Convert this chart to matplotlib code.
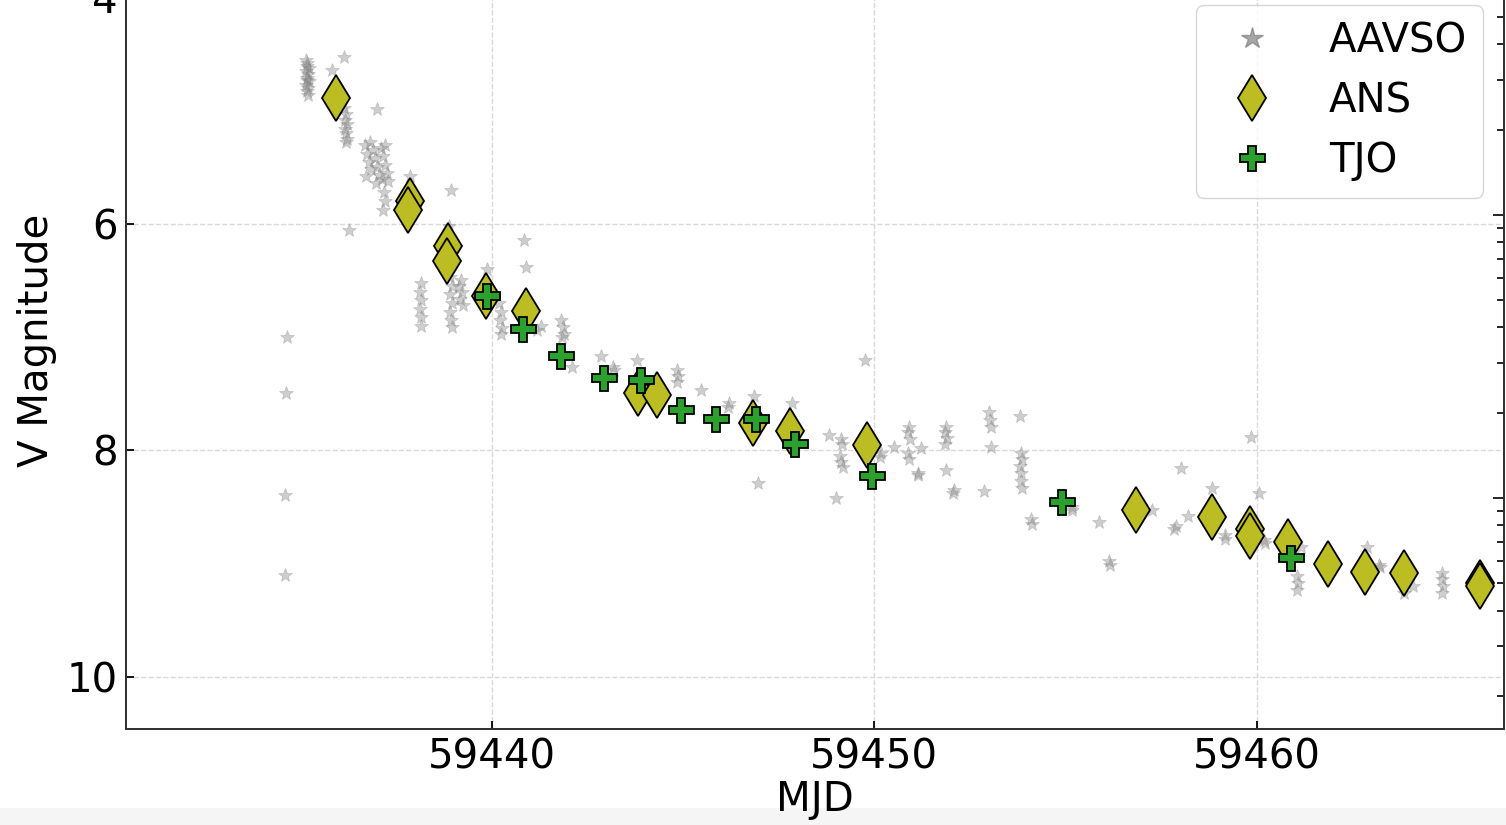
import matplotlib
matplotlib.use("Agg")
import matplotlib.pyplot as plt
from matplotlib.lines import Line2D
from matplotlib.patches import Rectangle
import numpy as np

# AAVSO V points (MJD, V magnitude), grouped by night
aavso_mjd = [
    59435.14, 59435.18, 59435.22, 59435.15, 59435.20, 59435.17, 59435.23, 59435.14, 59435.19, 59435.16,
    59435.21, 59435.18, 59435.16, 59435.83, 59436.13,
    59436.15, 59436.20, 59436.17, 59436.22, 59436.16, 59436.19, 59436.21, 59436.18, 59437.01,
    59436.70, 59436.75, 59436.80, 59436.85, 59436.72, 59436.90, 59436.95, 59437.00, 59437.05, 59437.10,
    59437.15, 59437.20, 59437.25, 59437.30, 59437.12, 59436.82, 59437.22, 59436.98,
    59437.18, 59437.20, 59437.17, 59437.86, 59438.93, 59436.27, 59438.88,
    59438.14, 59438.12, 59438.16, 59438.13, 59438.15, 59438.14,
    59438.90, 59438.95, 59438.92, 59438.97, 59438.91, 59438.94, 59438.96,
    59439.15, 59439.22, 59439.18, 59439.25, 59439.20, 59439.88,
    59440.20, 59440.25, 59440.22, 59440.27, 59440.24, 59440.85, 59440.89, 59441.19, 59441.28,
    59434.66, 59434.61, 59434.59, 59434.59,
    59441.80, 59441.85, 59441.88, 59441.83,
    59442.11, 59442.85, 59443.20, 59443.18, 59443.81,
    59444.85, 59444.87, 59444.84, 59445.46, 59446.20, 59446.18, 59446.86, 59446.95,
    59447.84, 59448.82,
    59449.12, 59449.16, 59449.10, 59449.14, 59449.18, 59448.99, 59449.76,
    59450.17, 59450.15, 59450.52, 59450.91, 59450.88, 59450.93, 59450.87, 59450.90,
    59451.22, 59451.13, 59451.15, 59451.87, 59451.85, 59451.89, 59451.86, 59451.87, 59452.09, 59452.07,
    59452.87, 59453.00, 59453.02, 59453.05, 59453.05,
    59453.80, 59453.83, 59453.85, 59453.82, 59453.84, 59453.83, 59453.86,
    59454.09, 59454.11, 59455.18, 59455.16, 59455.88, 59456.14, 59456.16,
    59457.27, 59457.88, 59457.84, 59458.19, 59458.01,
    59458.82, 59459.16, 59459.18, 59459.84, 59460.06, 59460.19, 59460.21,
    59461.15, 59461.06, 59461.08, 59461.06,
    59462.89, 59463.20, 59463.22, 59463.85, 59464.07,
    59464.85, 59464.85, 59464.87, 59464.85,
]
aavso_mag = [
    4.55, 4.58, 4.62, 4.65, 4.68, 4.71, 4.74, 4.77, 4.80, 4.83,
    4.86, 4.61, 4.73, 4.64, 4.53,
    4.98, 5.03, 5.08, 5.12, 5.16, 5.20, 5.25, 5.28, 4.99,
    5.30, 5.38, 5.45, 5.52, 5.58, 5.35, 5.42, 5.50, 5.57, 5.33,
    5.40, 5.48, 5.55, 5.62, 5.60, 5.28, 5.30, 5.64,
    5.72, 5.80, 5.88, 5.58, 5.70, 6.05, 6.02,
    6.52, 6.60, 6.67, 6.75, 6.82, 6.90,
    6.47, 6.55, 6.62, 6.70, 6.78, 6.85, 6.91,
    6.55, 6.60, 6.66, 6.72, 6.50, 6.40,
    6.70, 6.78, 6.85, 6.92, 6.97, 6.14, 6.38, 6.94, 6.90,
    7.00, 7.49, 8.39, 9.10,
    6.85, 6.91, 6.97, 7.00,
    7.26, 7.17, 7.29, 7.26, 7.20,
    7.29, 7.34, 7.40, 7.47, 7.58, 7.62, 7.52, 8.29,
    7.58, 7.86,
    7.90, 7.94, 8.05, 8.10, 8.15, 8.42, 7.20,
    8.02, 8.06, 7.97, 7.79, 7.84, 7.90, 8.02, 8.08,
    7.98, 8.20, 8.22, 7.79, 7.84, 7.89, 7.94, 8.17, 8.35, 8.38,
    8.36, 7.66, 7.73, 7.79, 7.97,
    7.70, 8.02, 8.08, 8.14, 8.20, 8.27, 8.33,
    8.61, 8.65, 8.50, 8.53, 8.63, 8.98, 9.01,
    8.53, 8.67, 8.69, 8.58, 8.16,
    8.33, 8.75, 8.78, 7.88, 8.38, 8.79, 8.82,
    8.85, 9.11, 9.17, 9.23,
    8.85, 9.01, 9.03, 9.26, 9.20,
    9.08, 9.14, 9.20, 9.26,
]

# ANS points
ans_mjd = [59435.92, 59437.87, 59437.82, 59438.86, 59438.82, 59439.84, 59440.90, 59443.82,
           59444.31, 59446.82, 59447.80, 59449.82, 59456.84, 59458.82, 59459.83, 59459.83,
           59460.82, 59461.85, 59462.82, 59463.84, 59465.83, 59465.83]
ans_mag = [4.89, 5.80, 5.88, 6.20, 6.33, 6.64, 6.77, 7.49,
           7.51, 7.76, 7.83, 7.95, 8.53, 8.59, 8.69, 8.76,
           8.81, 9.00, 9.07, 9.08, 9.17, 9.20]

# TJO points
tjo_mjd = [59439.87, 59440.83, 59441.82, 59442.94, 59443.90, 59444.94, 59445.86, 59446.90,
           59447.93, 59449.93, 59454.90, 59460.89]
tjo_mag = [6.64, 6.93, 7.17, 7.36, 7.38, 7.64, 7.72, 7.72,
           7.94, 8.23, 8.46, 8.95]

x_ticks = [59440, 59450, 59460]
y_ticks = [4, 6, 8, 10]

# magnitude that corresponds to a flux of 1 on the right hand log axis
flux_zero_mag = 8.42


def mag_to_flux(m):
    return 10 ** (-0.4 * (np.asarray(m, dtype=float) - flux_zero_mag))


def main():
    plt.rcParams['font.size'] = 29

    fig = plt.figure(figsize=(15.06, 8.25), dpi=100)
    # the original picture is cut at the top, so the axes run past the figure edge
    ax = fig.add_axes([126 / 1506, 96 / 825, 1378 / 1506, 777 / 825])

    ax.plot(aavso_mjd, aavso_mag, ls='none', marker='*', ms=10, color='gray',
            alpha=0.38, mew=0.5, zorder=2)
    ax.plot(ans_mjd, ans_mag, ls='none', marker='d', ms=23, mfc='#bcbd22',
            mec='black', mew=1.3, zorder=3)
    ax.plot(tjo_mjd, tjo_mag, ls='none', marker='P', ms=18, mfc='#2ca02c',
            mec='black', mew=1.3, zorder=4)

    ax.set_xlim(59430.44, 59466.46)
    ax.set_ylim(10.46, 3.6)
    ax.set_xticks(x_ticks)
    ax.set_yticks(y_ticks)
    ax.set_xlabel('MJD', labelpad=2)
    ax.set_ylabel('V Magnitude', labelpad=7)
    ax.grid(True, linestyle='--', color='0.85', linewidth=1)
    ax.set_axisbelow(True)
    ax.tick_params(direction='in', length=6, width=1.3, right=False, top=False)
    ax.tick_params(axis='x', pad=6)
    ax.tick_params(axis='y', pad=6)
    for sp in ax.spines.values():
        sp.set_linewidth(1.4)
        sp.set_color('0.2')

    # right axis: same scale as flux, log ticks (labels are cut off in the original)
    ax2 = ax.twinx()
    ax2.set_yscale('log')
    ax2.set_ylim(mag_to_flux(10.46), mag_to_flux(3.6))
    ax2.tick_params(which='both', direction='in', labelright=False, width=1.2)
    ax2.tick_params(which='major', length=8)
    ax2.tick_params(which='minor', length=5)
    for sp in ax2.spines.values():
        sp.set_linewidth(1.4)
        sp.set_color('0.2')

    handles = [
        Line2D([], [], ls='none', marker='*', ms=16, color='gray', alpha=0.7, label='AAVSO'),
        Line2D([], [], ls='none', marker='d', ms=23, mfc='#bcbd22', mec='black', mew=1.3, label='ANS'),
        Line2D([], [], ls='none', marker='P', ms=18, mfc='#2ca02c', mec='black', mew=1.3, label='TJO'),
    ]
    ax2.legend(handles=handles, loc='upper right', bbox_to_anchor=(1483 / 1506, 820 / 825),
               bbox_transform=fig.transFigure, borderaxespad=0, labelspacing=0.5,
               handletextpad=0.9, fontsize=29)

    # light strip at the bottom of the screenshot
    fig.patches.append(Rectangle((0, 0), 1, 17 / 825, transform=fig.transFigure,
                                 facecolor='#f5f5f5', edgecolor='none', zorder=-1))

    fig.savefig('out.png', dpi=100)


if __name__ == "__main__":
    main()
